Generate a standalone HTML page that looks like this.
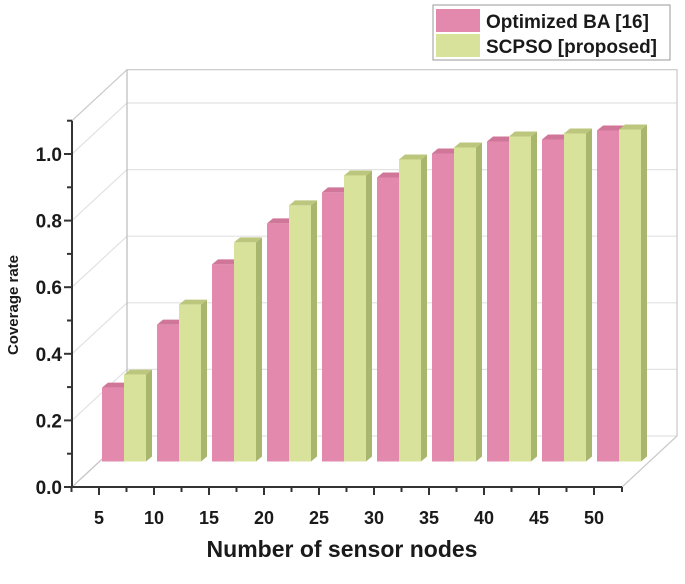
<!DOCTYPE html>
<html><head><meta charset="utf-8"><style>
body{margin:0;background:#fff;}
svg text{font-family:"Liberation Sans",Arial,sans-serif;font-weight:bold;fill:#1a1a1a;}
</style></head><body>
<svg width="685" height="579" viewBox="0 0 685 579">
<g id="frame"></g>
<g id="bars"></g>
<g id="axes"></g>
<g>
<rect x="433" y="5" width="237" height="55" fill="#fff" stroke="#999"/>
<rect x="436" y="9" width="44" height="23" fill="#e389ad"/>
<text x="486" y="28" font-size="19">Optimized BA [16]</text>
<rect x="436" y="34" width="44" height="23" fill="#d8e29a"/>
<text x="486" y="53" font-size="19">SCPSO [proposed]</text>
</g>
<text x="342" y="557" font-size="23" text-anchor="middle">Number of sensor nodes</text>
<text transform="translate(18,305) rotate(-90)" font-size="15" text-anchor="middle">Coverage rate</text>
</svg>
<script>
const categories=[5,10,15,20,25,30,35,40,45,50];
const baValues=[0.222,0.411,0.592,0.715,0.808,0.853,0.925,0.961,0.967,0.994];
const scpsoValues=[0.261,0.471,0.658,0.769,0.859,0.907,0.943,0.976,0.985,0.997];
const yTicks=[0,0.2,0.4,0.6,0.8,1.0];
const yTickLabels=["0.0","0.2","0.4","0.6","0.8","1.0"];
const NS="http://www.w3.org/2000/svg";
const X0=72,X1=622,Y0=487,SC=333,DX=55,DY=-51,YMAX=1.1;
const xPos=c=>99+(c-5)*11;
const yPos=v=>Y0-v*SC;
function mk(p,tag,a){const e=document.createElementNS(NS,tag);for(const k in a)e.setAttribute(k,a[k]);p.appendChild(e);return e;}
const fr=document.getElementById('frame'),ax=document.getElementById('axes'),bg=document.getElementById('bars');
yTicks.forEach((v,i)=>{const y=yPos(v);
 let l=mk(fr,'line',{x1:X0+DX,y1:y+DY,x2:X1+DX,y2:y+DY,stroke:'#e2e2e2','stroke-width':1.2});
 
 l=mk(fr,'line',{x1:X0,y1:y,x2:X0+DX,y2:y+DY,stroke:'#e2e2e2','stroke-width':1.2});
 
});
let b=mk(fr,'polyline',{points:`${X0},${yPos(YMAX)} ${X0+DX},${yPos(YMAX)+DY} ${X1+DX},${yPos(YMAX)+DY} ${X1+DX},${Y0+DY} ${X1},${Y0}`,fill:'none',stroke:'#c8c8c8','stroke-width':1.2});

b=mk(fr,'line',{x1:X0+DX,y1:yPos(YMAX)+DY,x2:X0+DX,y2:Y0+DY,stroke:'#bbb','stroke-width':1.2});

b=mk(fr,'line',{x1:X0,y1:Y0,x2:X0+DX,y2:Y0+DY,stroke:'#c8c8c8','stroke-width':1.2});

const BW=22,D=6,BY=Y0+DY/2;
function bar(x,v,front,side,top,name){
 const y=BY-v*SC;
 const g=mk(bg,'g',{});
 
 mk(g,'polygon',{points:`${x+BW},${y} ${x+BW+D},${y-5} ${x+BW+D},${BY-5} ${x+BW},${BY}`,fill:side});
 mk(g,'polygon',{points:`${x},${y} ${x+D},${y-5} ${x+BW+D},${y-5} ${x+BW},${y}`,fill:top});
 mk(g,'rect',{x:x,y:y,width:BW,height:v*SC,fill:front});
}
categories.forEach((c,i)=>{const cx=xPos(c)+25;
 bar(cx-BW,baValues[i],'#e389ad','#c26f90','#cf7699','bar-ba-'+c);
 bar(cx,scpsoValues[i],'#d8e29a','#a9b66e','#bcc77d','bar-scpso-'+c);
});
let a=mk(ax,'line',{x1:X0,y1:Y0,x2:X0,y2:yPos(YMAX),stroke:'#333','stroke-width':2});

a=mk(ax,'line',{x1:X0,y1:Y0,x2:X1,y2:Y0,stroke:'#333','stroke-width':2});

for(let k=0;k<=11;k++){const y=yPos(k/10);mk(ax,'line',{x1:X0-(k%2?5:8),y1:y,x2:X0,y2:y,stroke:'#333','stroke-width':2});}
yTicks.forEach((v,i)=>{const t=mk(ax,'text',{x:X0-10,y:yPos(v)+7,'font-size':19,'text-anchor':'end'});t.textContent=yTickLabels[i];
 });
categories.forEach(c=>{const x=xPos(c);
 mk(ax,'line',{x1:x,y1:Y0,x2:x,y2:Y0+8,stroke:'#333','stroke-width':2});
 mk(ax,'line',{x1:x-27.5,y1:Y0,x2:x-27.5,y2:Y0+5,stroke:'#333','stroke-width':2});
 const t=mk(ax,'text',{x:x,y:Y0+37,'font-size':18,'text-anchor':'middle'});t.textContent=c;
 });
mk(ax,'line',{x1:X1,y1:Y0,x2:X1,y2:Y0+5,stroke:'#333','stroke-width':2});
</script>
</body></html>
